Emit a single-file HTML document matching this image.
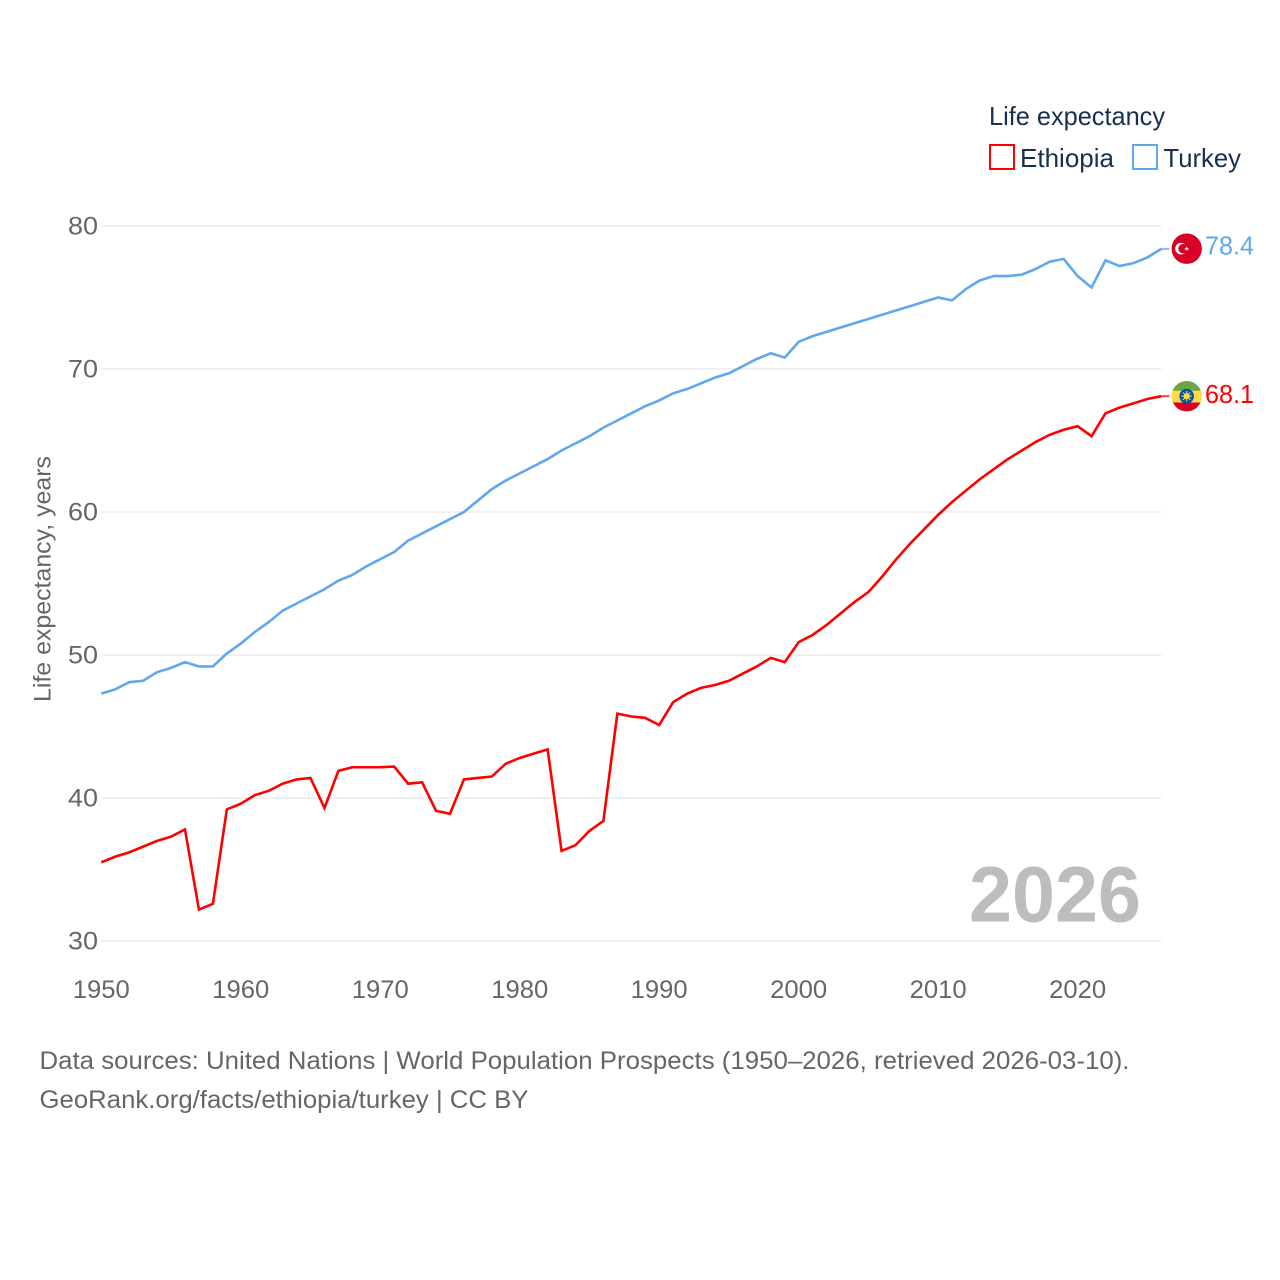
<!DOCTYPE html>
<html lang="en">
<head>
<meta charset="utf-8">
<title>Life expectancy: Ethiopia and Turkey</title>
<style>
html,body{margin:0;padding:0;background:#fff;}
svg{display:block;font-family:"Liberation Sans",sans-serif;}
</style>
</head>
<body>
<svg id="chart" width="1280" height="1280" viewBox="0 0 1280 1280" xmlns="http://www.w3.org/2000/svg">
  <defs>
    <clipPath id="flag-clip-tr"><circle cx="1186.7" cy="248.7" r="15.2"/></clipPath>
    <clipPath id="flag-clip-et"><circle cx="1186.7" cy="396.2" r="15.2"/></clipPath>
  </defs>
  <rect width="1280" height="1280" fill="#fff"/>
  <g id="grid"></g>
  <g id="y-ticks"></g>
  <g id="x-ticks"></g>
  <text transform="translate(50.5,579) rotate(-90)" text-anchor="middle" font-size="24" fill="#666" textLength="246" lengthAdjust="spacingAndGlyphs">Life expectancy, years</text>
  <text x="969" y="921.5" font-size="79" font-weight="700" fill="#bdbdbd" textLength="172" lengthAdjust="spacingAndGlyphs">2026</text>
  <g id="series"></g>

  <g>
    <g clip-path="url(#flag-clip-tr)">
      <rect x="1171" y="233" width="32" height="32" fill="#d80027"/>
      <circle cx="1181" cy="248.7" r="5.800" fill="#fff"/>
      <circle cx="1183" cy="248.7" r="4.700" fill="#d80027"/>
      <polygon points="1186.700,246.400 1187.400,248 1189.100,248 1187.800,249.100 1188.300,250.800 1186.700,249.800 1185.100,250.800 1185.600,249.100 1184.300,248 1186,248" fill="#fff"/>
    </g>
  </g>
  <g>
    <g clip-path="url(#flag-clip-et)">
      <rect x="1171" y="380" width="32" height="11" fill="#6da544"/>
      <rect x="1171" y="390.700" width="32" height="12" fill="#ffda44"/>
      <rect x="1171" y="402.500" width="32" height="10" fill="#d80027"/>
      <circle cx="1186.7" cy="396.2" r="7.300" fill="#0052b4"/>
      <circle cx="1186.7" cy="396.2" r="3" fill="#ffda44"/>
      <path d="M1186.7 391V401.400M1181.500 396.200H1191.900M1183 392.500L1190.400 399.900M1190.400 392.500L1183 399.900" stroke="#ffda44" stroke-width="1.100"/>
    </g>
  </g>

  <text x="1205" y="254.5" font-size="25.5" fill="#5fa8ee" textLength="49" lengthAdjust="spacingAndGlyphs">78.4</text>
  <text x="1205" y="403" font-size="25.5" fill="#ff0000" textLength="49" lengthAdjust="spacingAndGlyphs">68.1</text>

  <g>
    <text x="989" y="125" font-size="26" fill="#18304f" textLength="176" lengthAdjust="spacingAndGlyphs">Life expectancy</text>
    <g>
      <rect x="990" y="145" width="24" height="24" fill="#fff" stroke="#ff0000" stroke-width="2"/>
      <text x="1020" y="167" font-size="26" fill="#18304f" textLength="94" lengthAdjust="spacingAndGlyphs">Ethiopia</text>
    </g>
    <g>
      <rect x="1133" y="145" width="24" height="24" fill="#fff" stroke="#5fa8ee" stroke-width="2"/>
      <text x="1163.500" y="167" font-size="26" fill="#18304f" textLength="77.500" lengthAdjust="spacingAndGlyphs">Turkey</text>
    </g>
  </g>

  <text x="39.5" y="1069" font-size="25" fill="#666" textLength="1090" lengthAdjust="spacingAndGlyphs">Data sources: United Nations | World Population Prospects (1950–2026, retrieved 2026-03-10).</text>
  <text x="39.5" y="1108" font-size="25" fill="#666" textLength="489" lengthAdjust="spacingAndGlyphs">GeoRank.org/facts/ethiopia/turkey | CC BY</text>
</svg>
<script>
const firstYear = 1950;
const lastYear = 2026;
const yTickValues = [30, 40, 50, 60, 70, 80];
const xTickYears = [1950, 1960, 1970, 1980, 1990, 2000, 2010, 2020];
const ethiopiaValues = [35.5,35.9,36.2,36.6,37.0,37.3,37.8,32.2,32.6,39.2,39.6,40.2,40.5,41.0,41.3,41.4,39.3,41.9,42.15,42.15,42.15,42.2,41.0,41.1,39.1,38.9,41.3,41.4,41.5,42.4,42.8,43.1,43.4,36.3,36.7,37.7,38.4,45.9,45.7,45.6,45.1,46.7,47.3,47.7,47.9,48.2,48.7,49.2,49.8,49.5,50.9,51.4,52.1,52.9,53.7,54.4,55.5,56.7,57.8,58.8,59.8,60.7,61.5,62.3,63.0,63.7,64.3,64.9,65.4,65.75,66.0,65.3,66.9,67.3,67.6,67.9,68.1];
const turkeyValues = [47.3,47.6,48.1,48.2,48.8,49.1,49.5,49.2,49.2,50.1,50.8,51.6,52.3,53.1,53.6,54.1,54.6,55.2,55.6,56.2,56.7,57.2,58.0,58.5,59.0,59.5,60.0,60.8,61.6,62.2,62.7,63.2,63.7,64.3,64.8,65.3,65.9,66.4,66.9,67.4,67.8,68.3,68.6,69.0,69.4,69.7,70.2,70.7,71.1,70.8,71.9,72.3,72.6,72.9,73.2,73.5,73.8,74.1,74.4,74.7,75.0,74.8,75.6,76.2,76.5,76.5,76.6,77.0,77.5,77.7,76.5,75.7,77.6,77.2,77.4,77.8,78.4];

const NS = 'http://www.w3.org/2000/svg';
const plotLeft = 101.3, plotRight = 1161.3, plotTop = 226, plotBottom = 941;
const yMin = 30, yMax = 80;
const connectorEnd = 1169.5;
function xScale(year) { return plotLeft + (year - firstYear) / (lastYear - firstYear) * (plotRight - plotLeft); }
function yScale(value) { return plotBottom - (value - yMin) / (yMax - yMin) * (plotBottom - plotTop); }

const gridGroup = document.getElementById('grid');
const yGroup = document.getElementById('y-ticks');
const xGroup = document.getElementById('x-ticks');
const seriesGroup = document.getElementById('series');

yTickValues.forEach(function (v) {
  const line = document.createElementNS(NS, 'line');
  line.setAttribute('x1', plotLeft);
  line.setAttribute('x2', plotRight);
  line.setAttribute('y1', yScale(v));
  line.setAttribute('y2', yScale(v));
  line.setAttribute('stroke', '#e8e8e8');
  line.setAttribute('stroke-width', '1.2');
  
  
  gridGroup.appendChild(line);

  const label = document.createElementNS(NS, 'text');
  label.setAttribute('x', 98);
  label.setAttribute('y', yScale(v) + 8.5);
  label.setAttribute('text-anchor', 'end');
  label.setAttribute('font-size', '25');
  label.setAttribute('fill', '#666');
  label.setAttribute('textLength', '30');
  label.setAttribute('lengthAdjust', 'spacingAndGlyphs');
  
  
  label.textContent = String(v);
  yGroup.appendChild(label);
});

xTickYears.forEach(function (year) {
  const label = document.createElementNS(NS, 'text');
  label.setAttribute('x', xScale(year));
  label.setAttribute('y', 998);
  label.setAttribute('text-anchor', 'middle');
  label.setAttribute('font-size', '25');
  label.setAttribute('fill', '#666');
  label.setAttribute('textLength', '57');
  label.setAttribute('lengthAdjust', 'spacingAndGlyphs');
  
  
  label.textContent = String(year);
  xGroup.appendChild(label);
});

function pointsFor(values) {
  return values.map(function (v, i) {
    return xScale(firstYear + i).toFixed(2) + ',' + yScale(v).toFixed(2);
  }).join(' ');
}

const turkeyLine = document.createElementNS(NS, 'polyline');
turkeyLine.setAttribute('points', pointsFor(turkeyValues));
turkeyLine.setAttribute('fill', 'none');
turkeyLine.setAttribute('stroke', '#5fa8ee');
turkeyLine.setAttribute('stroke-width', '2.6');
turkeyLine.setAttribute('stroke-linejoin', 'miter');


seriesGroup.appendChild(turkeyLine);

const turkeyConnector = document.createElementNS(NS, 'line');
turkeyConnector.setAttribute('x1', xScale(lastYear));
turkeyConnector.setAttribute('x2', connectorEnd);
turkeyConnector.setAttribute('y1', yScale(turkeyValues[turkeyValues.length - 1]));
turkeyConnector.setAttribute('y2', yScale(turkeyValues[turkeyValues.length - 1]));
turkeyConnector.setAttribute('stroke', '#5fa8ee');
turkeyConnector.setAttribute('stroke-width', '2');
turkeyConnector.setAttribute('opacity', '0.75');


seriesGroup.appendChild(turkeyConnector);

const ethiopiaLine = document.createElementNS(NS, 'polyline');
ethiopiaLine.setAttribute('points', pointsFor(ethiopiaValues));
ethiopiaLine.setAttribute('fill', 'none');
ethiopiaLine.setAttribute('stroke', '#ff0000');
ethiopiaLine.setAttribute('stroke-width', '2.6');
ethiopiaLine.setAttribute('stroke-linejoin', 'miter');


seriesGroup.appendChild(ethiopiaLine);

const ethiopiaConnector = document.createElementNS(NS, 'line');
ethiopiaConnector.setAttribute('x1', xScale(lastYear));
ethiopiaConnector.setAttribute('x2', connectorEnd);
ethiopiaConnector.setAttribute('y1', yScale(ethiopiaValues[ethiopiaValues.length - 1]));
ethiopiaConnector.setAttribute('y2', yScale(ethiopiaValues[ethiopiaValues.length - 1]));
ethiopiaConnector.setAttribute('stroke', '#ff0000');
ethiopiaConnector.setAttribute('stroke-width', '2');
ethiopiaConnector.setAttribute('opacity', '0.75');


seriesGroup.appendChild(ethiopiaConnector);
</script>
</body>
</html>
